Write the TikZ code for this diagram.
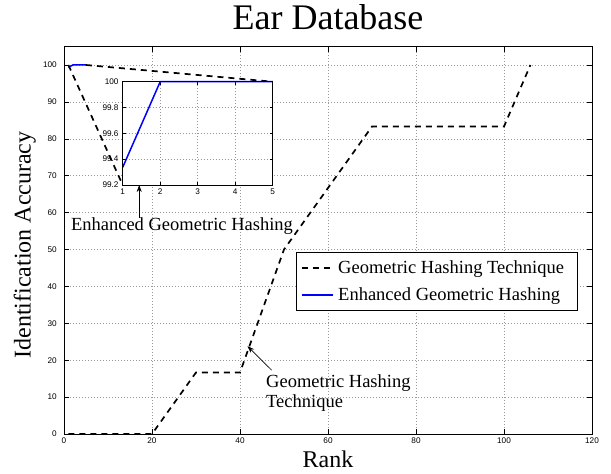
\documentclass[tikz,border=0pt]{standalone}
\usepackage{fontspec}
\setmainfont{Liberation Serif}
\setsansfont{Liberation Sans}
\usetikzlibrary{arrows.meta}

\tikzset{
  gridline/.style={gray!80, line width=0.5pt, dash pattern=on 0.6pt off 2.4pt},
  ghline/.style={black, line width=1.7pt, dash pattern=on 6pt off 5pt},
  eghline/.style={blue, line width=1.5pt},
  ticklabel/.style={font=\sffamily\fontsize{8.2}{9}\selectfont, inner sep=0pt},
  annot/.style={font=\fontsize{18.5}{20}\selectfont, inner sep=0pt},
  pointer/.style={-{Stealth[length=7pt, width=5pt]}, line width=0.6pt},
}

\begin{document}
\begin{tikzpicture}[x=1pt, y=1pt]
\useasboundingbox (0,0) rectangle (611,474);

% main plot, rank 0..120, accuracy 0..105
\begin{scope}[shift={(64,40)}, x=4.4pt, y=3.69pt]
\foreach \r in {20,40,...,100} \draw[gridline] (\r,0) -- (\r,105);
\foreach \v in {10,20,...,100} \draw[gridline] (0,\v) -- (120,\v);
\foreach \r in {0,20,...,120} {
  \draw[line width=0.5pt] (\r,0) -- ++(0,5pt) (\r,105) -- ++(0,-5pt);
  \node[ticklabel, anchor=north] at ([yshift=-4pt]\r,0) {\r};
}
\foreach \v in {0,10,...,100} {
  \draw[line width=0.5pt] (0,\v) -- ++(5pt,0) (120,\v) -- ++(-5pt,0);
  \node[ticklabel, anchor=east] at ([xshift=-7pt]0,\v) {\v};
}
\draw[ghline] (1,0) -- (20,0) -- (30,16.67) -- (40,16.67) -- (50,50) -- (70,83.33) -- (100,83.33) -- (106,100);
\draw[eghline] (1,99.33) -- (2,100) -- (5,100);
\draw[line width=0.9pt] (0,0) rectangle (120,105);
\coordinate (zoomlo) at (1,100);
\coordinate (zoomhi) at (5,100);
\coordinate (ghtip) at (41.7,23.8);
\end{scope}

% zoomed view, rank 1..5, accuracy 99.2..100 (y in hundredths)
\begin{scope}[shift={(122.7,289)}, x=37.5pt, y=1.291pt]
\coordinate (insetlo) at (0,0);
\coordinate (insethi) at (4,80);
\coordinate (insettip) at (0.44,0);
\draw[ghline] (zoomlo) -- (insetlo);
\draw[ghline] (zoomhi) -- (insethi);
\fill[white] (0,0) rectangle (4,80);
\foreach \x in {1,2,3} \draw[gridline] (\x,0) -- (\x,80);
\foreach \y in {20,40,60} \draw[gridline] (0,\y) -- (4,\y);
\foreach \x/\lab in {0/1,1/2,2/3,3/4,4/5} {
  \draw[line width=0.5pt] (\x,0) -- ++(0,3pt) (\x,80) -- ++(0,-3pt);
  \node[ticklabel, anchor=north] at ([yshift=-4pt]\x,0) {\lab};
}
\foreach \y/\lab in {0/99.2,20/99.4,40/99.6,60/99.8,80/100} {
  \draw[line width=0.5pt] (0,\y) -- ++(3pt,0) (4,\y) -- ++(-3pt,0);
  \node[ticklabel, anchor=east] at ([xshift=-4pt]0,\y) {\lab};
}
\draw[eghline] (0,13.7) -- (1,80) -- (4,80);
\draw[line width=0.9pt] (0,0) rectangle (4,80);
\end{scope}

% legend
\node[draw, line width=0.7pt, fill=white, minimum width=281pt, minimum height=57.7pt, anchor=north west] (legend) at (295.7,221.7) {};
\coordinate (ghkey) at (301.7,206);
\coordinate (eghkey) at (301.7,179);
\draw[ghline, line width=1.4pt] (ghkey) -- ++(31.6,0);
\draw[eghline, line width=1.2pt] (eghkey) -- ++(31.6,0);
\node[annot, anchor=base west] (ghkeytext) at (338,200) {Geometric Hashing Technique};
\node[annot, anchor=base west] (eghkeytext) at (338,173) {Enhanced Geometric Hashing};

% pointers into the plot
\node[annot, anchor=base] (eghtext) at (182,243.3) {Enhanced Geometric Hashing};
\draw[pointer] (eghtext.north -| insettip) -- (insettip);
\node[annot, anchor=base west] (ghtext) at (266,86.7) {Geometric Hashing};
\node[annot, anchor=base west] (ghtext2) at (266,66.3) {Technique};
\draw[pointer] ([xshift=5.7pt, yshift=4pt]ghtext.north west) -- (ghtip);

% titles
\node[font=\fontsize{36}{36}\selectfont, anchor=base] (title) at (328,444) {Ear Database};
\node[font=\fontsize{24}{24}\selectfont, anchor=base] (xlabel) at (328,6) {Rank};
\node[font=\fontsize{24}{24}\selectfont, anchor=base, rotate=90] (ylabel) at (30.6,229) {Identification Accuracy};
\end{tikzpicture}
\end{document}
